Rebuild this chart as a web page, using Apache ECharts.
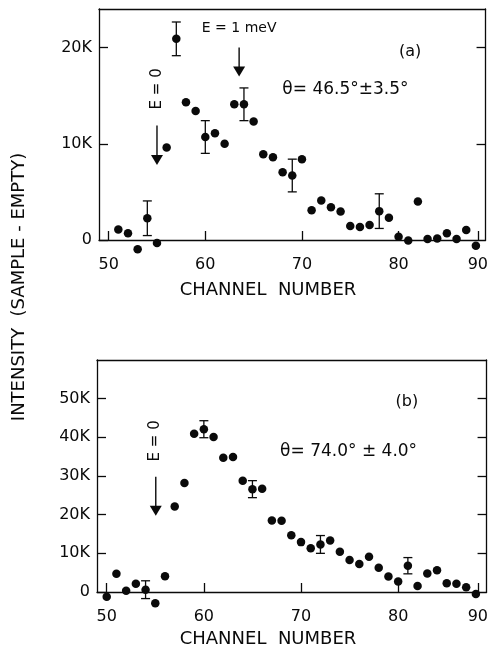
<!DOCTYPE html>
<html><head><meta charset="utf-8">
<script src="https://cdn.jsdelivr.net/npm/echarts@6/dist/echarts.min.js"></script>
<style>html,body{margin:0;padding:0;background:#fff}#c{width:491px;height:658px}</style>
</head><body><div id="c"></div>
<script>
// ---------- data (intensity in thousands of counts) ----------
const channelsA = [51,52,53,54,55,56,57,58,59,60,61,62,63,64,65,66,67,68,69,70,71,72,73,74,75,76,77,78,79,80,81,82,83,84,85,86,87,88];
const intensityA = [1.1,0.7,-0.95,2.26,-0.3,9.6,20.9,14.3,13.4,10.7,11.1,10.0,14.1,14.1,12.3,8.9,8.6,7.05,6.7,8.4,3.1,4.1,3.4,2.95,1.45,1.35,1.55,3.0,2.3,0.35,-0.05,4.0,0.1,0.15,0.7,0.1,1.05,-0.6];
const errChannelsA = [54,57,60,64,69,78];
const errCentersA = [2.26,20.9,10.7,14.1,6.7,3.0];
const errSizesA = [1.8,1.75,1.7,1.7,1.7,1.8];

const channelsB = [50,51,52,53,54,55,56,57,58,59,60,61,62,63,64,65,66,67,68,69,70,71,72,73,74,75,76,77,78,79,80,81,82,83,84,85,86,87,88];
const intensityB = [-1.2,4.7,0.35,2.15,0.6,-2.9,4.1,22.1,28.2,40.9,42.1,40.1,34.7,34.9,28.8,26.6,26.7,18.5,18.4,14.7,12.9,11.3,12.3,13.3,10.4,8.3,7.25,9.1,6.3,4.0,2.7,6.8,1.55,4.8,5.6,2.25,2.15,1.2,-0.5];
const errChannelsB = [54,60,65,72,81];
const errCentersB = [0.6,42.1,26.6,12.3,6.8];
const errSizesB = [2.3,2.2,2.2,2.3,2.1];

// tick positions as drawn on the figure (the last label sits at the axis end)
const xTickValues = [50,60,70,80,88.2];
const xTickLabels = ['50','60','70','80','90'];
const yTicksA = [0,10,20];
const yTicksB = [0,10,20,30,40,50];

// annotation arrows: channel, from, to (tip)
const arrowsA = [[55.0,11.9,7.8],[63.5,20.0,17.0]];
const arrowsB = [[55.05,29.8,19.7]];
// annotation texts
const textsA = [
  {text:'E = 0', x:55.0, y:15.7, rot:true, size:15},
  {text:'E = 1 meV', x:63.5, y:22.0, rot:false, size:14},
  {text:'(a)', x:81.2, y:19.6, rot:false, size:16},
  {text:'θ= 46.5°±3.5°', x:74.5, y:15.6, rot:false, size:17}
];
const textsB = [
  {text:'E = 0', x:55.0, y:39.1, rot:true, size:15},
  {text:'(b)', x:80.9, y:49.2, rot:false, size:16},
  {text:'θ= 74.0° ± 4.0°', x:74.9, y:36.3, rot:false, size:17}
];

// ---------- chart ----------
const FONT = 'DejaVu Sans';
const INK = '#0a0a0a';
const chart = echarts.init(document.getElementById('c'), null, {renderer:'canvas'});

function kfmt(v){ return v === 0 ? '0' : v + 'K'; }
function xfmt(v){ const i = xTickValues.indexOf(v); return i >= 0 ? xTickLabels[i] : ''; }

function xBottom(grid, min, max){
  return {type:'value', gridIndex:grid, min:min, max:max, position:'bottom',
    axisLine:{show:true, onZero:false, lineStyle:{color:INK, width:1.3}},
    axisTick:{show:true, inside:true, length:9, lineStyle:{color:INK, width:1.3}, customValues:xTickValues},
    axisLabel:{show:true, margin:17, color:INK, fontFamily:FONT, fontSize:16, customValues:xTickValues, formatter:xfmt},
    splitLine:{show:false}};
}
function xTop(grid, min, max){
  return {type:'value', gridIndex:grid, min:min, max:max, position:'top',
    axisLine:{show:true, onZero:false, lineStyle:{color:INK, width:1.3}},
    axisTick:{show:false}, axisLabel:{show:false}, splitLine:{show:false}};
}
function yLeft(grid, max, ticks){
  return {type:'value', gridIndex:grid, min:0, max:max, position:'left',
    axisLine:{show:true, onZero:false, lineStyle:{color:INK, width:1.3}},
    axisTick:{show:true, inside:true, length:9, lineStyle:{color:INK, width:1.3}, customValues:ticks},
    axisLabel:{show:true, margin:7, color:INK, fontFamily:FONT, fontSize:16, customValues:ticks, formatter:kfmt},
    splitLine:{show:false}};
}
function yRight(grid, max, ticks){
  return {type:'value', gridIndex:grid, min:0, max:max, position:'right',
    axisLine:{show:true, onZero:false, lineStyle:{color:INK, width:1.3}},
    axisTick:{show:true, inside:true, length:9, lineStyle:{color:INK, width:1.3}, customValues:ticks.slice(1)},
    axisLabel:{show:false}, splitLine:{show:false}};
}

function zip(a,b){ return a.map((v,i)=>[v,b[i]]); }
function zip3(a,b,c){ return a.map((v,i)=>[v,b[i],c[i]]); }

function errRender(params, api){
  const x = api.value(0), c = api.value(1), e = api.value(2);
  const t = api.coord([x, c+e]), b = api.coord([x, c-e]);
  const w = 4.5, st = {stroke:INK, lineWidth:1.3};
  return {type:'group', children:[
    {type:'line', shape:{x1:t[0],y1:t[1],x2:b[0],y2:b[1]}, style:st},
    {type:'line', shape:{x1:t[0]-w,y1:t[1],x2:t[0]+w,y2:t[1]}, style:st},
    {type:'line', shape:{x1:b[0]-w,y1:b[1],x2:b[0]+w,y2:b[1]}, style:st}
  ]};
}
function arrowRender(params, api){
  const x = api.value(0);
  const s = api.coord([x, api.value(1)]), tip = api.coord([x, api.value(2)]);
  const hw = 6, hh = 10;
  return {type:'group', children:[
    {type:'line', shape:{x1:s[0],y1:s[1],x2:tip[0],y2:tip[1]-hh+1}, style:{stroke:INK, lineWidth:1.4}},
    {type:'polygon', shape:{points:[[tip[0]-hw,tip[1]-hh],[tip[0]+hw,tip[1]-hh],[tip[0],tip[1]]]}, style:{fill:INK}}
  ]};
}
function textSeries(list, xi, yi){
  return {type:'custom', xAxisIndex:xi, yAxisIndex:yi, silent:true, clip:false,
    data: list.map(t=>[t.x, t.y]),
    renderItem:function(params, api){
      const t = list[params.dataIndex];
      const p = api.coord([api.value(0), api.value(1)]);
      return {type:'text', x:p[0], y:p[1], rotation: t.rot ? Math.PI/2 : 0,
        style:{text:t.text, fill:INK, fontFamily:FONT, fontSize:t.size, align:'center', verticalAlign:'middle'}};
    }};
}

const dotStyle = {color:INK, opacity:1};

const option = {
  animation:false,
  backgroundColor:'#fff',
  grid:[
    {left:99, right:2, top:9, height:231},
    {left:97, right:2, top:360, height:232}
  ],
  xAxis:[ xBottom(0,49,89), xTop(0,49,89), xBottom(1,49,89.1), xTop(1,49,89.1) ],
  yAxis:[ yLeft(0,24,yTicksA), yRight(0,24,yTicksA), yLeft(1,60,yTicksB), yRight(1,60,yTicksB) ],
  graphic:[
    {type:'text', x:19, y:287, rotation:Math.PI/2,
      style:{text:'INTENSITY  (SAMPLE - EMPTY)', fill:INK, fontFamily:FONT, fontSize:18, align:'center', verticalAlign:'middle'}},
    {type:'text', x:268, y:290,
      style:{text:'CHANNEL  NUMBER', fill:INK, fontFamily:FONT, fontSize:18, align:'center', verticalAlign:'middle'}},
    {type:'text', x:268, y:639,
      style:{text:'CHANNEL  NUMBER', fill:INK, fontFamily:FONT, fontSize:18, align:'center', verticalAlign:'middle'}}
  ],
  series:[
    {type:'scatter', xAxisIndex:0, yAxisIndex:0, clip:false, symbol:'circle', symbolSize:8.5,
      itemStyle:dotStyle, data:zip(channelsA, intensityA)},
    {type:'custom', xAxisIndex:0, yAxisIndex:0, clip:false, renderItem:errRender,
      data:zip3(errChannelsA, errCentersA, errSizesA)},
    {type:'custom', xAxisIndex:0, yAxisIndex:0, clip:false, renderItem:arrowRender, data:arrowsA},
    textSeries(textsA, 0, 0),
    {type:'scatter', xAxisIndex:2, yAxisIndex:2, clip:false, symbol:'circle', symbolSize:8.5,
      itemStyle:dotStyle, data:zip(channelsB, intensityB)},
    {type:'custom', xAxisIndex:2, yAxisIndex:2, clip:false, renderItem:errRender,
      data:zip3(errChannelsB, errCentersB, errSizesB)},
    {type:'custom', xAxisIndex:2, yAxisIndex:2, clip:false, renderItem:arrowRender, data:arrowsB},
    textSeries(textsB, 2, 2)
  ]
};
chart.setOption(option);
</script></body></html>
